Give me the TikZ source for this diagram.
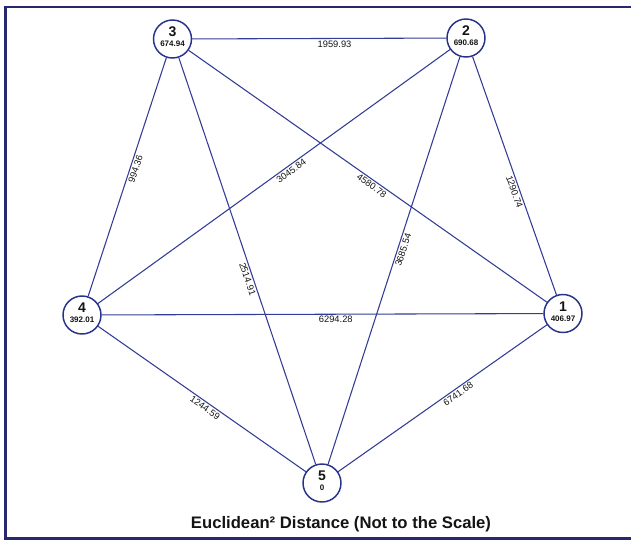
\documentclass[tikz,border=0pt]{standalone}
\usepackage{fontspec}
\setmainfont{Liberation Sans}
\definecolor{edgeblue}{RGB}{50,60,150}
\definecolor{circblue}{RGB}{40,50,140}
\definecolor{framecol}{RGB}{40,40,110}
\definecolor{txt}{RGB}{20,20,20}
\begin{document}
\begin{tikzpicture}[x=0.75pt,y=-0.75pt,
  vtx/.style={circle,draw=circblue,line width=1.1pt,fill=white,minimum size=28.5pt,inner sep=0pt},
  numtxt/.style={font=\bfseries\fontsize{10.5}{11}\selectfont,text=txt,inner sep=0pt},
  valtxt/.style={font=\bfseries\fontsize{6}{7}\selectfont,text=txt,inner sep=0pt},
  edge/.style={draw=edgeblue,line width=0.8pt},
  elab/.style={font=\fontsize{7}{8}\selectfont,text=txt,sloped,below,inner sep=1.2pt},
  titletxt/.style={font=\bfseries\fontsize{12.5}{14}\selectfont,text=txt,inner sep=0pt}
]
\useasboundingbox (0,0) rectangle (631,540);
\draw[framecol,line width=2pt] (631,7) -- (5.5,7) -- (5.5,538.5) -- (631,538.5);

% vertices
\node[vtx] (v3) at (172.5,39) {};
\node[vtx] (v2) at (466,38) {};
\node[vtx] (v4) at (82,315) {};
\node[vtx] (v1) at (563,313.5) {};
\node[vtx] (v5) at (322,483) {};

% edges
\draw[edge] (v3) -- node[elab,pos=0.56] {1959.93} (v2);
\draw[edge] (v4) -- node[elab,pos=0.54] {994.36} (v3);
\draw[edge] (v4) -- node[elab,pos=0.54] {3045.84} (v2);
\draw[edge] (v3) -- node[elab,pos=0.52] {4580.78} (v1);
\draw[edge] (v2) -- node[elab,pos=0.56] {1290.74} (v1);
\draw[edge] (v3) -- node[elab,pos=0.54] {2514.91} (v5);
\draw[edge] (v5) -- node[elab,pos=0.53] {3685.54} (v2);
\draw[edge] (v4) -- node[elab,pos=0.53] {6294.28} (v1);
\draw[edge] (v4) -- node[elab,pos=0.53] {1244.59} (v5);
\draw[edge] (v5) -- node[elab,pos=0.56] {6741.68} (v1);

% vertex texts
\node[numtxt] (v3n) at ([yshift=7*0.75pt]v3.center) {3};
\node[valtxt] (v3v) at ([yshift=-5*0.75pt]v3.center) {674.94};
\node[numtxt] (v2n) at ([yshift=7*0.75pt]v2.center) {2};
\node[valtxt] (v2v) at ([yshift=-5*0.75pt]v2.center) {690.68};
\node[numtxt] (v4n) at ([yshift=7*0.75pt]v4.center) {4};
\node[valtxt] (v4v) at ([yshift=-5*0.75pt]v4.center) {392.01};
\node[numtxt] (v1n) at ([yshift=7*0.75pt]v1.center) {1};
\node[valtxt] (v1v) at ([yshift=-5*0.75pt]v1.center) {406.97};
\node[numtxt] (v5n) at ([yshift=7*0.75pt]v5.center) {5};
\node[valtxt] (v5v) at ([yshift=-5*0.75pt]v5.center) {0};

\node[titletxt] (title) at (341,524) {Euclidean² Distance (Not to the Scale)};
\end{tikzpicture}
\end{document}
